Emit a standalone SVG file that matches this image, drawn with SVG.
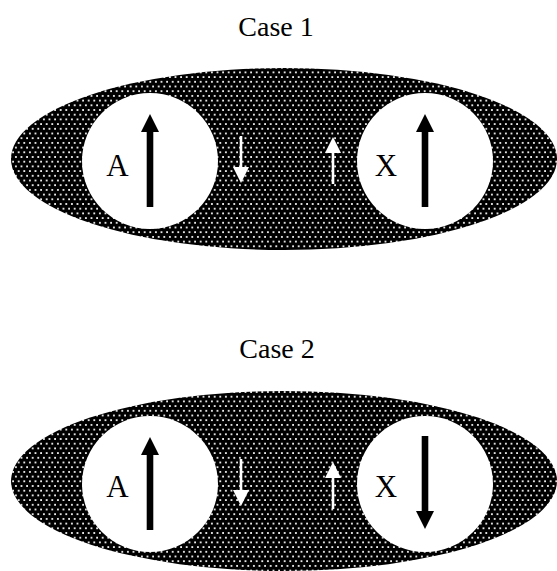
<svg xmlns="http://www.w3.org/2000/svg" xmlns:xlink="http://www.w3.org/1999/xlink" width="557" height="571" viewBox="0 0 557 571">
  <style>
    .title { font-family: "Liberation Serif", "Times New Roman", serif; font-size: 28px; fill: #000; text-anchor: middle; }
    .label { font-family: "Liberation Serif", "Times New Roman", serif; font-size: 31px; fill: #000; text-anchor: middle; }
    .region { fill: url(#dots); }
    .site { fill: #fff; }
    .big { fill: #000; }
    .small { fill: #fff; }
  </style>
  <defs>
    <!-- halftone fill: black ground with staggered white dots -->
    <pattern id="dots" x="0" y="0" width="5.6" height="9.4" patternUnits="userSpaceOnUse">
      <rect width="5.6" height="9.4" fill="#000"/>
      <rect x="1" y="1" width="1.8" height="1.8" fill="#f4f4f4"/>
      <rect x="3.8" y="5.7" width="1.8" height="1.8" fill="#f4f4f4"/>
    </pattern>
    <!-- large spin arrow, tip at origin pointing up -->
    <path id="bigArrow" d="M0,0 L9,18 L3.3,18 L3.3,93 L-3.3,93 L-3.3,18 L-9,18 Z"/>
    <!-- small spin arrow, tip at origin pointing up -->
    <path id="smallArrow" d="M0,0 L8,16 L1.3,16 L1.3,47 L-1.3,47 L-1.3,16 L-8,16 Z"/>
  </defs>

  <rect width="557" height="571" fill="#fff"/>

  <!-- Case 1 -->
  <text class="title" x="276" y="36">Case 1</text>
  <g id="case1-medium">
    <ellipse class="region" cx="284" cy="159" rx="273" ry="91"/>
  </g>
  <g id="case1-A">
    <circle class="site" cx="150" cy="161" r="68"/>
    <text class="label" x="117.5" y="176">A</text>
    <use class="big" href="#bigArrow" transform="translate(150,114)"/>
  </g>
  <g id="case1-X">
    <circle class="site" cx="425" cy="161" r="68"/>
    <text class="label" x="386" y="176">X</text>
    <use class="big" href="#bigArrow" transform="translate(425,114)"/>
  </g>
  <g id="case1-polarization">
    <use class="small" href="#smallArrow" transform="translate(241,183) rotate(180)"/>
    <use class="small" href="#smallArrow" transform="translate(333,137)"/>
  </g>

  <!-- Case 2 -->
  <text class="title" x="277" y="358">Case 2</text>
  <g id="case2-medium">
    <ellipse class="region" cx="284" cy="481" rx="273" ry="90"/>
  </g>
  <g id="case2-A">
    <circle class="site" cx="150" cy="484" r="68"/>
    <text class="label" x="117.5" y="497">A</text>
    <use class="big" href="#bigArrow" transform="translate(150,437)"/>
  </g>
  <g id="case2-X">
    <circle class="site" cx="425" cy="484" r="68"/>
    <text class="label" x="386" y="497">X</text>
    <use class="big" href="#bigArrow" transform="translate(425,529) rotate(180)"/>
  </g>
  <g id="case2-polarization">
    <use class="small" href="#smallArrow" transform="translate(241,506) rotate(180)"/>
    <use class="small" href="#smallArrow" transform="translate(333,462)"/>
  </g>
</svg>
